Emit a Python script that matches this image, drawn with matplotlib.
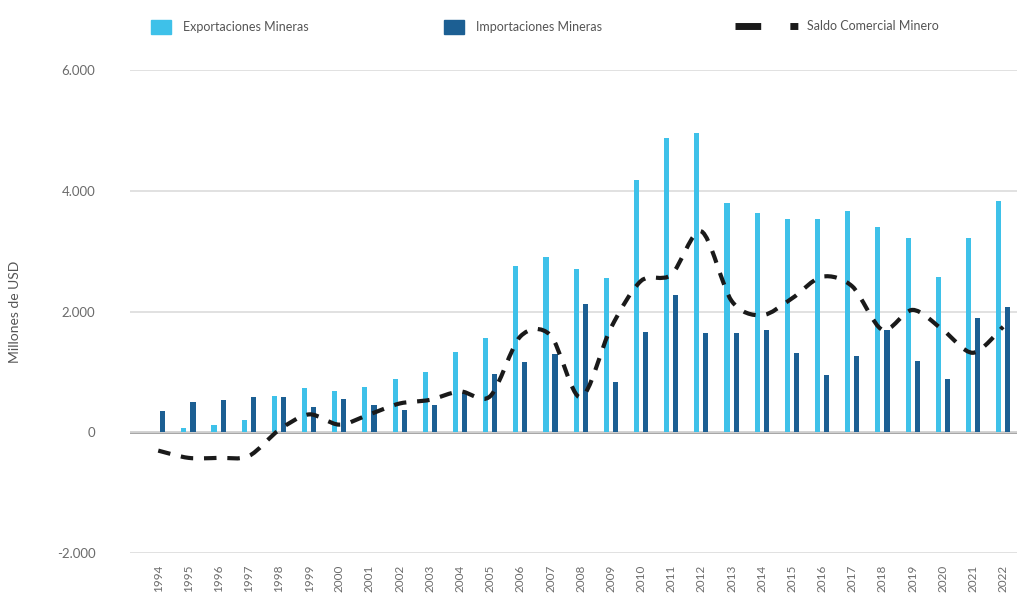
import numpy as np
import matplotlib
matplotlib.use("Agg")
import matplotlib.pyplot as plt
from matplotlib.path import Path
from matplotlib.patches import PathPatch, Patch
from matplotlib.lines import Line2D
from matplotlib.ticker import FuncFormatter

plt.rcParams['font.family'] = ['Lato', 'DejaVu Sans']

years = list(range(1994, 2023))
exportaciones = [0, 80, 130, 200, 600, 730, 680, 760, 880, 1000,
                 1340, 1570, 2760, 2910, 2700, 2560, 4180, 4880, 4960, 3800,
                 3640, 3540, 3540, 3670, 3400, 3220, 2580, 3220, 3830]
importaciones = [350, 510, 545, 580, 580, 430, 560, 460, 380, 460,
                 660, 975, 1170, 1300, 2120, 830, 1670, 2270, 1640, 1640,
                 1700, 1320, 960, 1260, 1700, 1190, 880, 1900, 2080]
saldo = [-300, -420, -420, -390, 40, 300, 130, 300, 480, 540,
         680, 600, 1590, 1610, 580, 1730, 2510, 2610, 3330, 2180,
         1940, 2220, 2580, 2420, 1700, 2030, 1700, 1320, 1750]

C_EXP = '#3ec1e9'
C_IMP = '#1c5f93'
GREY = '#6b6b6b'


def smooth_path(x, y, t=0.5):
    # Catmull-Rom segments written as cubic Bezier curves
    x = np.asarray(x, float)
    y = np.asarray(y, float)
    verts = [(x[0], y[0])]
    codes = [Path.MOVETO]
    n = len(x)
    for i in range(n - 1):
        p0 = np.array([x[max(i - 1, 0)], y[max(i - 1, 0)]])
        p1 = np.array([x[i], y[i]])
        p2 = np.array([x[i + 1], y[i + 1]])
        p3 = np.array([x[min(i + 2, n - 1)], y[min(i + 2, n - 1)]])
        c1 = p1 + (p2 - p0) * t / 3
        c2 = p2 - (p3 - p1) * t / 3
        verts += [tuple(c1), tuple(c2), tuple(p2)]
        codes += [Path.CURVE4] * 3
    return Path(verts, codes)


fig = plt.figure(figsize=(10.17, 6.10), dpi=100)
ax = fig.add_axes([0.128, 0.093, 0.872, 0.792])

x = np.array(years)
w = 0.17
ax.bar(x - 0.15, exportaciones, width=w, color=C_EXP, zorder=2)
ax.bar(x + 0.15, importaciones, width=w, color=C_IMP, zorder=2)

patch = PathPatch(smooth_path(x, saldo, t=0.45), fill=False, edgecolor='#1a1a1a',
                  lw=3.0, linestyle=(0, (3.0, 2.6)), capstyle='butt', zorder=3)
ax.add_patch(patch)

ax.set_xlim(1993.07, 2022.46)
ax.set_ylim(-2000, 6000)
ax.set_yticks([-2000, 0, 2000, 4000, 6000])
ax.yaxis.set_major_formatter(FuncFormatter(lambda v, p: f"{int(v):,}".replace(',', '.')))
ax.set_xticks(years)
ax.set_xticklabels([str(y) for y in years], rotation=90, fontsize=8.5, color=GREY)
ax.tick_params(axis='y', labelsize=9.5, colors=GREY, length=0, pad=25)
ax.tick_params(axis='x', length=0, pad=8)

ax.grid(axis='y', color='#dcdcdc', lw=1.2, zorder=0)
ax.axhline(0, color='#8a8a8a', lw=1.8, zorder=1)
for s in ax.spines.values():
    s.set_visible(False)

ax.set_ylabel('Millones de USD', fontsize=10, color='#555555', labelpad=26)

fig.legend([Patch(color=C_EXP), Patch(color=C_IMP)],
           ['Exportaciones Mineras', 'Importaciones Mineras'],
           loc='upper left', bbox_to_anchor=(0.137, 0.985),
           ncol=2, frameon=False, fontsize=9, labelcolor='#555555',
           handlelength=1.6, handleheight=1.3, columnspacing=10.8,
           handletextpad=1.0)
fig.legend([Line2D([], [], color='#1a1a1a', lw=5,
                   linestyle=(0, (3.7, 4.2, 1.15, 6)))],
           ['Saldo Comercial Minero'],
           loc='upper left', bbox_to_anchor=(0.712, 0.985),
           frameon=False, fontsize=9, labelcolor='#555555',
           handlelength=5.0, handletextpad=0.75)

fig.savefig('out.png', dpi=100)
